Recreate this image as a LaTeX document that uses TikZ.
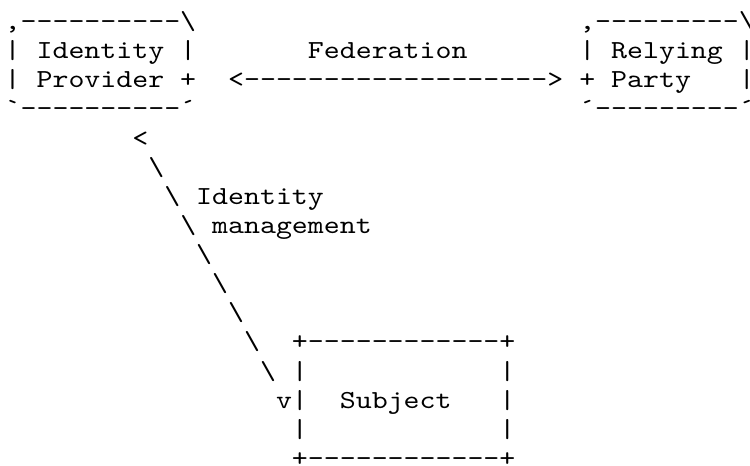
\documentclass[tikz,border=0pt]{standalone}
\usepackage{fontspec}
\usepackage{graphicx}
\setmonofont{lmmono10-regular.otf}
% one text cell grid: 15.96pt per column, 29.125pt per row
\newcommand\asc[1]{\scalebox{1.169}[1]{\ttfamily\fontsize{26}{29}\selectfont #1}}
\newcommand\bsl{\textbackslash}
\newcommand\tick{\char"00B4\relax}
\newcommand\gridtext[4]{\node[ascii] (#1) at ({4.7+15.96*#2},{29.5+29.125*#3}) {\asc{#4}};}
\begin{document}
\begin{tikzpicture}[x=1pt,y=-1pt,
  ascii/.style={anchor=base west,inner sep=0pt,outer sep=0pt}]
\useasboundingbox (0,0) rectangle (750,466);
\begin{scope}
\clip (0,0) rectangle (750,466);
% Identity Provider box
\gridtext{idpTop}{0}{0}{,----------\bsl}
\gridtext{idpA}{0}{1}{|~Identity~|}
\gridtext{idpB}{0}{2}{|~Provider~+}
\gridtext{idpBot}{0}{3}{`----------\tick}
% Relying Party box
\gridtext{rpTop}{36}{0}{,---------\bsl}
\gridtext{rpA}{36}{1}{|~Relying~|}
\gridtext{rpB}{36}{2}{+~Party~~~|}
\gridtext{rpBot}{36}{3}{\tick---------\tick}
% Federation link
\gridtext{fedLabel}{19}{1}{Federation}
\gridtext{fedArrow}{14}{2}{<------------------->}
% Identity management link
\gridtext{imHead}{8}{4}{<}
\gridtext{imS5}{9}{5}{\bsl}
\gridtext{imS6}{10}{6}{\bsl}
\gridtext{imLabelA}{12}{6}{Identity}
\gridtext{imS7}{11}{7}{\bsl}
\gridtext{imLabelB}{13}{7}{management}
\gridtext{imS8}{12}{8}{\bsl}
\gridtext{imS9}{13}{9}{\bsl}
\gridtext{imS10}{14}{10}{\bsl}
\gridtext{imS11}{15}{11}{\bsl}
\gridtext{imS12}{16}{12}{\bsl}
\gridtext{imTip}{17}{13}{v}
% Subject box
\gridtext{subTop}{18}{11}{+------------+}
\gridtext{subA}{18}{12}{|~~~~~~~~~~~~|}
\gridtext{subB}{18}{13}{|~~Subject~~~|}
\gridtext{subC}{18}{14}{|~~~~~~~~~~~~|}
\gridtext{subBot}{18}{15}{+------------+}
\end{scope}
\end{tikzpicture}
\end{document}
